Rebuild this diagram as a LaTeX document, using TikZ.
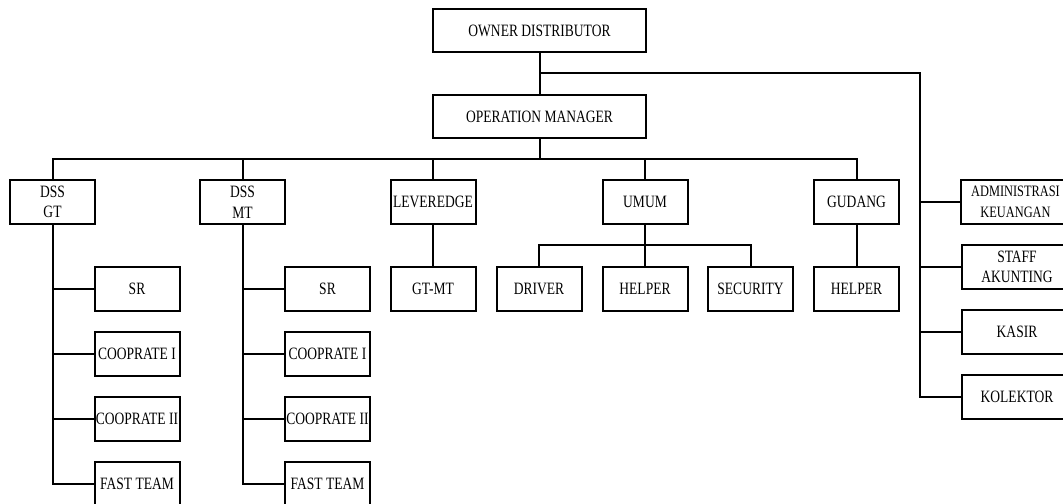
\documentclass[tikz,border=0pt]{standalone}
\usepackage{fontspec}
\setmainfont{Liberation Serif}[FakeStretch=0.78]
\begin{document}
\begin{tikzpicture}[x=0.75pt,y=-0.75pt,
  every path/.style={line width=1.5pt},
  box/.style={draw, line width=1.5pt, rectangle, inner sep=0pt, align=center,
    minimum width=63.75pt, minimum height=33pt,
    font=\fontsize{13}{15.5}\selectfont},
  widebox/.style={box, minimum width=159.75pt, minimum height=32.25pt},
  rbox/.style={box, minimum width=82.5pt},
  conn/.style={draw, line width=1.5pt}]
\useasboundingbox (0,0) rectangle (1063,503);
% top
\node[widebox] (owner) at (539.5,30.5) {OWNER DISTRIBUTOR};
\node[widebox] (op) at (539.5,116.5) {OPERATION MANAGER};
% level 2
\node[box] (dssgt) at (52.5,202) {DSS\\GT};
\node[box] (dssmt) at (242.5,202) {DSS\\MT};
\node[box] (lev) at (433,202) {LEVEREDGE};
\node[box] (umum) at (645,202) {UMUM};
\node[box] (gudang) at (856.5,202) {GUDANG};
% right column
\node[rbox, font=\fontsize{11.9}{15.5}\selectfont] (admin) at (1015.5,202) {ADMINISTRASI\\KEUANGAN};
\node[rbox] (staff) at (1017,267) {STAFF\\AKUNTING};
\node[rbox] (kasir) at (1017,332) {KASIR};
\node[rbox] (kolektor) at (1017,397) {KOLEKTOR};
% GT column
\node[box] (sr1) at (137,288.5) {SR};
\node[box] (coopa1) at (137,353.5) {COOPRATE I};
\node[box] (coopb1) at (137,418.5) {COOPRATE II};
\node[box] (fast1) at (137,483.5) {FAST TEAM};
% MT column
\node[box] (sr2) at (327.5,288.5) {SR};
\node[box] (coopa2) at (327.5,353.5) {COOPRATE I};
\node[box] (coopb2) at (327.5,418.5) {COOPRATE II};
\node[box] (fast2) at (327.5,483.5) {FAST TEAM};
% others level 3
\node[box] (gtmt) at (433,288.5) {GT-MT};
\node[box] (driver) at (539,288.5) {DRIVER};
\node[box] (helper1) at (645,288.5) {HELPER};
\node[box] (security) at (750.5,288.5) {SECURITY};
\node[box] (helper2) at (856.5,288.5) {HELPER};
% connectors
\coordinate (t) at (539.5,73);
\coordinate (rv) at (920,73);
\coordinate (b) at (539.5,159);
\coordinate (u) at (645,245);
\draw[conn] (owner.south) -- (op.north);
\draw[conn] (t) -- (rv) |- (kolektor.west);
\draw[conn] (admin.west) -- (admin.west -| rv);
\draw[conn] (staff.west) -- (staff.west -| rv);
\draw[conn] (kasir.west) -- (kasir.west -| rv);
\draw[conn] (op.south) -- (b);
\draw[conn] (dssgt.north) |- (gudang.north |- b) -- (gudang.north);
\draw[conn] (dssmt.north) -- (dssmt.north |- b);
\draw[conn] (lev.north) -- (lev.north |- b);
\draw[conn] (umum.north) -- (umum.north |- b);
\draw[conn] (dssgt.south) |- (fast1.west);
\draw[conn] (sr1.west) -- (sr1.west -| dssgt.south);
\draw[conn] (coopa1.west) -- (coopa1.west -| dssgt.south);
\draw[conn] (coopb1.west) -- (coopb1.west -| dssgt.south);
\draw[conn] (dssmt.south) |- (fast2.west);
\draw[conn] (sr2.west) -- (sr2.west -| dssmt.south);
\draw[conn] (coopa2.west) -- (coopa2.west -| dssmt.south);
\draw[conn] (coopb2.west) -- (coopb2.west -| dssmt.south);
\draw[conn] (lev.south) -- (gtmt.north);
\draw[conn] (umum.south) -- (helper1.north);
\draw[conn] (driver.north) |- (security.north |- u) -- (security.north);
\draw[conn] (gudang.south) -- (helper2.north);
\end{tikzpicture}
\end{document}
